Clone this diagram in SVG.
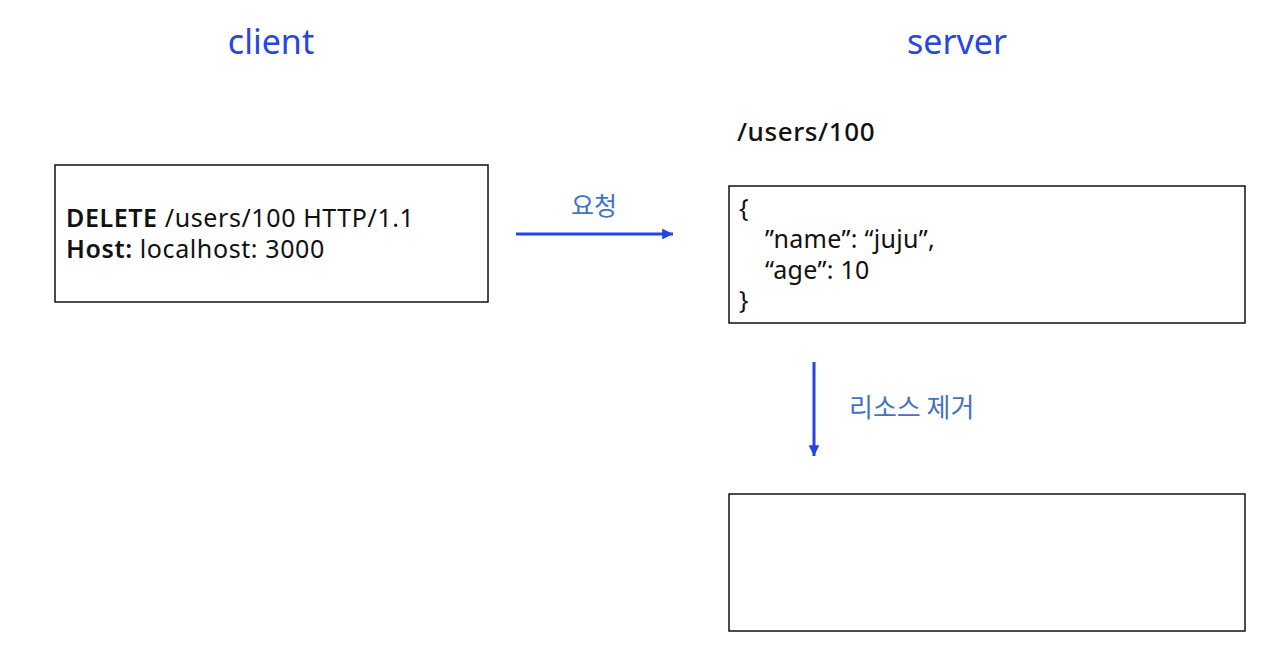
<svg xmlns="http://www.w3.org/2000/svg" width="1280" height="662" viewBox="0 0 1280 662">
<defs>
<style>
.box{fill:#fff;stroke:#111;stroke-width:1.5}
.title{font-family:"Noto Sans","Noto Sans CJK KR",sans-serif;font-size:34px;fill:#2846E2;text-anchor:middle}
.t{font-family:"Noto Sans","Noto Sans CJK KR",sans-serif;font-size:25px;letter-spacing:0.6px;fill:#111}
.b{font-weight:600}
.lbl{font-family:"Noto Sans CJK KR","Noto Sans",sans-serif;font-size:25px;fill:#4472C4}
.conn{stroke:#2444E4;stroke-width:3;fill:none}
</style>
<marker id="ah" viewBox="0 0 10 10" refX="10" refY="5" markerWidth="4" markerHeight="3.6" markerUnits="strokeWidth" orient="auto">
<path d="M0,0 L10,5 L0,10 Z" fill="#2444E4"/>
</marker>
</defs>
<rect width="1280" height="662" fill="#fff"/>
<text class="title" x="271" y="54">client</text>
<text class="title" x="957" y="54">server</text>
<g id="client-request">
<rect class="box" x="55" y="165" width="433" height="137"/>
<text class="t" x="66" y="227"><tspan class="b">DELETE</tspan> /users/100 HTTP/1.1</text>
<text class="t" x="66" y="258"><tspan class="b">Host:</tspan> localhost: 3000</text>
</g>
<g id="server-resource">
<text class="t" x="737" y="141" style="font-weight:500;font-size:26px">/users/100</text>
<rect class="box" x="729" y="186" width="516" height="137"/>
<text class="t" x="739" y="217">{</text>
<text class="t" x="765" y="248" style="letter-spacing:0.3px">”name”: “juju”,</text>
<text class="t" x="765" y="279" style="letter-spacing:0.3px">“age”: 10</text>
<text class="t" x="739" y="309">}</text>
</g>
<g id="server-empty">
<rect class="box" x="729" y="494" width="516" height="137"/>
</g>
<g id="connectors">
<line class="conn" x1="516" y1="234" x2="673" y2="234" marker-end="url(#ah)"/>
<text class="lbl" x="594" y="215" text-anchor="middle">요청</text>
<line class="conn" x1="814" y1="362" x2="814" y2="456" marker-end="url(#ah)"/>
<text class="lbl" x="849" y="417" style="font-size:26px">리소스 제거</text>
</g>
</svg>
